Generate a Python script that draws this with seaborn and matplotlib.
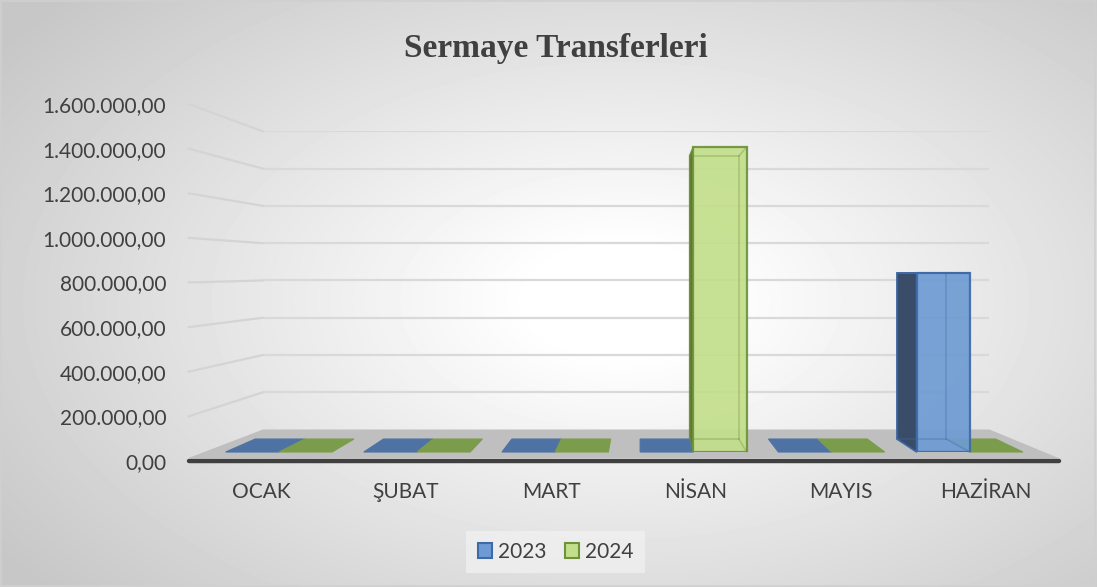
import numpy as np
import pandas as pd
import matplotlib
matplotlib.use("Agg")
import matplotlib.pyplot as plt
from matplotlib.patches import Polygon, Rectangle, Patch
from matplotlib.lines import Line2D
from matplotlib.transforms import IdentityTransform
from matplotlib.ticker import FuncFormatter
import seaborn as sns

# ---------------- data ----------------
title = "Sermaye Transferleri"
months = ["OCAK", "ŞUBAT", "MART", "NİSAN", "MAYIS", "HAZİRAN"]
years = ["2023", "2024"]
values_2023 = [0, 0, 0, 0, 0, 842000]
values_2024 = [0, 0, 0, 1434000, 0, 0]
y_ticks = [0, 200000, 400000, 600000, 800000, 1000000, 1200000, 1400000, 1600000]

# ---------------- styles ----------------
front_col = {"2023": "#6e9bd3", "2024": "#c3df8b"}
edge_col = {"2023": "#3e6ba8", "2024": "#6f913a"}
side_col = {"2023": "#3a4d68", "2024": "#5c7433"}
top_col = {"2023": "#4d72a3", "2024": "#7b9c4b"}
text_col = "#404040"

sns.set_theme(style="white")
plt.rcParams["font.family"] = ["Lato", "DejaVu Sans"]

W, H = 1097, 587
fig = plt.figure(figsize=(W / 100, H / 100), dpi=100)

# perspective layout (image pixel coords, origin top-left)
VPX, VPY = 640, 270
FL, FR, FB, FT = 188.5, 1058.5, 461, 104
S_BACK, S_BF, S_BB = 0.835, 0.953, 0.885


def rect_at(s):
    l = VPX + s * (FL - VPX)
    r = VPX + s * (FR - VPX)
    b = VPY + s * (FB - VPY)
    t = VPY + s * (FT - VPY)
    return [l / W, 1 - b / H, (r - l) / W, (b - t) / H]


# ---------------- background ----------------
bg = fig.add_axes([0, 0, 1, 1], zorder=-10)
yy, xx = np.mgrid[0:H, 0:W]
d = np.sqrt(((xx - 620) / (W * 0.55)) ** 2 + ((yy - 300) / (H * 0.6)) ** 2)
g = 1 - 0.22 * np.clip((d - 0.15) / 1.1, 0, 1)
bg.imshow(g, cmap="gray", vmin=0, vmax=1, aspect="auto", extent=[0, 1, 0, 1],
          interpolation="bilinear")
bg.set_axis_off()
bg.add_patch(Rectangle((0.001, 0.002), 0.997, 0.996, transform=bg.transAxes,
                       fill=False, edgecolor="#d0d0d0", lw=1.2))

# ---------------- back wall gridlines ----------------
ax_back = fig.add_axes(rect_at(S_BACK), zorder=0)
ax_back.set_facecolor("none")
ax_back.set_xlim(-0.5, 5.5)
ax_back.set_ylim(0, 1600000)
for v in y_ticks[1:]:
    ax_back.axhline(v, color="#d9d9d9", lw=1.6)
ax_back.set_axis_off()

# ---------------- front axes (labels) ----------------
ax = fig.add_axes(rect_at(1.0), zorder=1)
ax.set_facecolor("none")
ax.set_xlim(-0.5, 5.5)
ax.set_ylim(0, 1600000)
ax.set_yticks(y_ticks)
ax.yaxis.set_major_formatter(FuncFormatter(
    lambda v, p: f"{v:,.2f}".replace(",", "X").replace(".", ",").replace("X", ".")))
ax.set_xticks(range(len(months)))
ax.set_xticklabels(months)
ax.tick_params(axis="both", length=0, labelsize=15, labelcolor=text_col)
ax.tick_params(axis="y", pad=16)
ax.tick_params(axis="x", pad=15)
for sp in ax.spines.values():
    sp.set_visible(False)

# side wall lines and floor (connect front and back planes)
idt = IdentityTransform()
for v in y_ticks[1:]:
    p0 = ax.transData.transform((-0.5, v))
    p1 = ax_back.transData.transform((-0.5, v))
    ax_back.add_line(Line2D([p0[0], p1[0]], [p0[1], p1[1]], transform=idt,
                            color="#d4d4d4", lw=1.6, clip_on=False))
fl = ax.transData.transform((-0.5, 0))
fr = ax.transData.transform((5.5, 0))
bl = ax_back.transData.transform((-0.5, 0))
br = ax_back.transData.transform((5.5, 0))
ax_back.add_patch(Polygon([fl + [0, 3], fr + [0, 3], br, bl], closed=True, transform=idt,
                          facecolor="#bfbfbf", edgecolor="none", clip_on=False))
ax.axhline(0, color="#404040", lw=3.2, clip_on=False)

# ---------------- bars ----------------
ax_bar = fig.add_axes(rect_at(S_BF), zorder=2)
ax_bar.set_facecolor("none")
df = pd.DataFrame({
    "month": months * 2,
    "year": [years[0]] * len(months) + [years[1]] * len(months),
    "value": values_2023 + values_2024,
})
sns.barplot(data=df, x="month", y="value", hue="year", order=months, hue_order=years,
            palette=[front_col[y] for y in years], width=0.77, saturation=1,
            legend=False, ax=ax_bar, zorder=3)
ax_bar.set_xlim(-0.5, 5.5)
ax_bar.set_ylim(0, 1600000)
ax_bar.set_axis_off()

c = S_BB / S_BF
vpd = np.array([VPX, H - VPY], dtype=float)


def back(p):
    return vpd + c * (np.asarray(p, dtype=float) - vpd)


for yr, cont in zip(years, ax_bar.containers):
    for patch in cont.patches:
        bb = patch.get_bbox()
        (x0, y0), (x1, y1) = ax_bar.transData.transform([[bb.x0, bb.y0], [bb.x1, bb.y1]])
        FLb, FRb, FLt, FRt = (x0, y0), (x1, y0), (x0, y1), (x1, y1)
        tall = (y1 - y0) > 1
        # side faces
        if tall and x0 > vpd[0]:
            ax_bar.add_patch(Polygon([FLb, FLt, back(FLt), back(FLb)], transform=idt,
                                     facecolor=side_col[yr], edgecolor=edge_col[yr], lw=1,
                                     zorder=2, clip_on=False))
        if tall and x1 < vpd[0]:
            ax_bar.add_patch(Polygon([FRb, FRt, back(FRt), back(FRb)], transform=idt,
                                     facecolor=side_col[yr], edgecolor=edge_col[yr], lw=1,
                                     zorder=2, clip_on=False))
        # top face
        if y1 < vpd[1]:
            ax_bar.add_patch(Polygon([FLt, FRt, back(FRt), back(FLt)], transform=idt,
                                     facecolor=top_col[yr] if not tall else side_col[yr],
                                     edgecolor=top_col[yr] if not tall else edge_col[yr],
                                     lw=0.8, zorder=2.5, clip_on=False))
        if tall:
            patch.set_facecolor(front_col[yr])
            patch.set_alpha(0.92)
            patch.set_edgecolor(edge_col[yr])
            patch.set_linewidth(1.6)
            # translucent hidden edges
            bLb, bRb, bLt, bRt = back(FLb), back(FRb), back(FLt), back(FRt)
            for a, b in [(bLb, bRb), (bRb, bRt), (bRt, bLt), (bLt, bLb),
                         (FRt, bRt), (FRb, bRb), (FLb, bLb), (FLt, bLt)]:
                ax_bar.add_line(Line2D([a[0], b[0]], [a[1], b[1]], transform=idt,
                                       color=edge_col[yr], alpha=0.35, lw=1.2,
                                       zorder=4, clip_on=False))
        else:
            patch.set_linewidth(0)
            patch.set_edgecolor("none")

# ---------------- title & legend ----------------
fig.text(555.5 / W, 1 - 57 / H, title, ha="center", va="baseline",
         fontsize=24, fontweight="bold", color=text_col,
         family=["Liberation Serif", "DejaVu Serif"])

handles = [Patch(facecolor=front_col[y], edgecolor=edge_col[y], lw=1.5, label=y) for y in years]
leg = ax.legend(handles=handles, loc="center", bbox_to_anchor=(555.5 / W, 1 - 552 / H),
                bbox_transform=fig.transFigure, ncol=2, frameon=True, fontsize=15,
                handlelength=0.7, handleheight=0.7, handletextpad=0.25,
                columnspacing=0.9, borderpad=0.55, fancybox=False)
leg.get_frame().set_facecolor("#f2f2f2")
leg.get_frame().set_alpha(0.7)
leg.get_frame().set_edgecolor("none")
for t in leg.get_texts():
    t.set_color(text_col)

fig.savefig("out.png", dpi=100)
